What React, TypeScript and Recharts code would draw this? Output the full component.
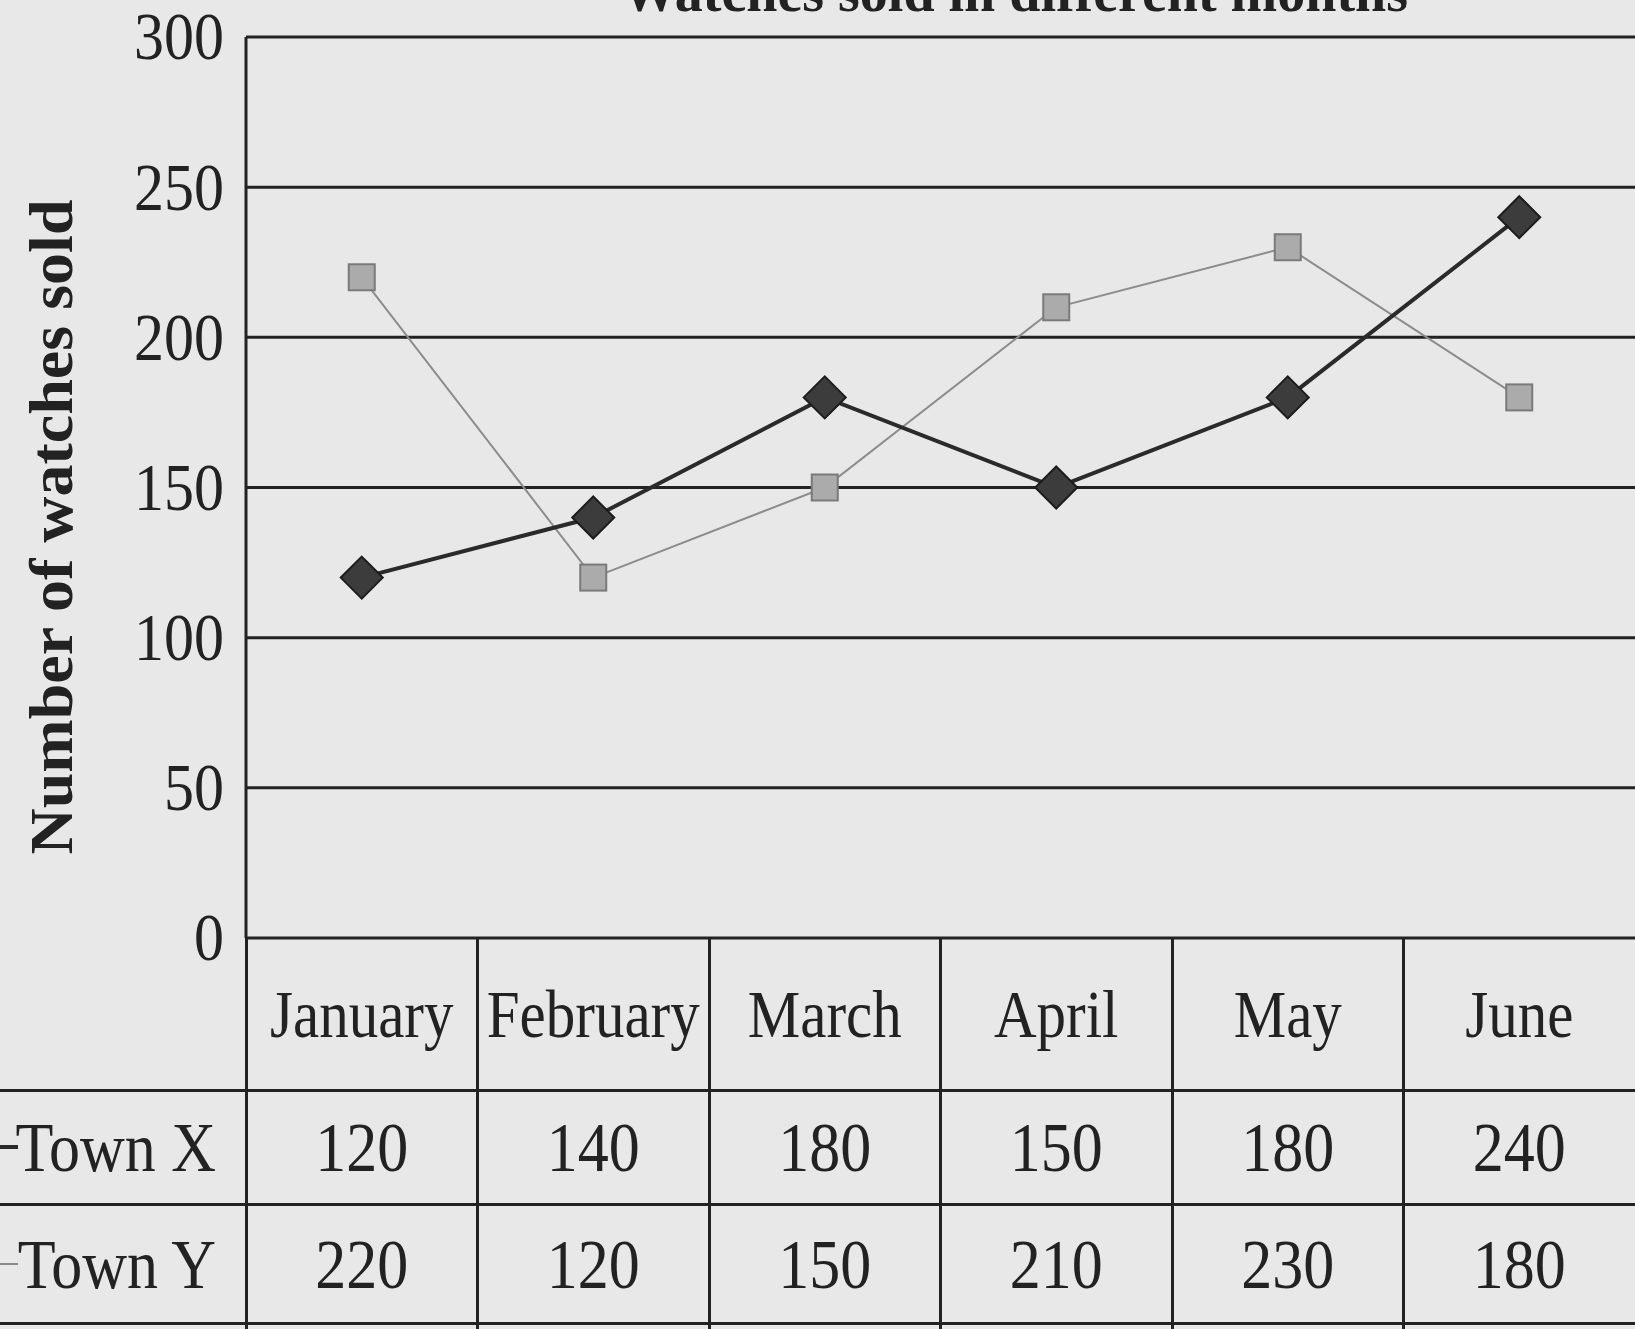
import { CartesianGrid, Line, LineChart, XAxis, YAxis } from 'recharts';

const months = ['January', 'February', 'March', 'April', 'May', 'June'];
const townX = [120, 140, 180, 150, 180, 240];
const townY = [220, 120, 150, 210, 230, 180];
const yTicks = [0, 50, 100, 150, 200, 250, 300];

const data = months.map((month, i) => ({ month, townX: townX[i], townY: townY[i] }));

const W = 1635;
const AXIS_X = 246;
const PLOT_TOP = 37;
const PLOT_BOTTOM = 938;
const COL_W = (W - AXIS_X) / months.length;
const FONT = '"Liberation Serif", "Times New Roman", serif';
const INK = '#222';
const PAPER = '#e8e8e9';

const YTick = ({ x, y, payload }: any) => (
  <text
    x={0}
    y={0}
    transform={`translate(${x},${y + 7}) scale(1,1.12)`}
    textAnchor="end"
    dominantBaseline="middle"
    fontFamily={FONT}
    fontSize={60}
    fill={INK}
  >
    {payload.value}
  </text>
);

const Diamond = ({ cx, cy, index }: any) => (
  <path
    key={`dx-${index}`}
    d={`M${cx},${cy - 21} L${cx + 21},${cy} L${cx},${cy + 21} L${cx - 21},${cy} Z`}
    fill="#3c3c3c"
    stroke="#1c1c1c"
    strokeWidth={2}
  />
);

const Square = ({ cx, cy, index }: any) => (
  <rect
    key={`sy-${index}`}
    x={cx - 13}
    y={cy - 13}
    width={26}
    height={26}
    fill="#ababab"
    stroke="#7a7a7a"
    strokeWidth={2}
  />
);

const cellText: React.CSSProperties = {
  display: 'inline-block',
  transform: 'scale(1,1.12)',
  fontFamily: FONT,
  fontSize: 62,
  color: INK,
  lineHeight: 1,
};

const headText: React.CSSProperties = { ...cellText, fontSize: 59, transform: 'scale(1,1.16)' };

const rows = [
  { name: 'Town X', values: townX, top: 1090, height: 114, key: '#2a2a2a', keyW: 4 },
  { name: 'Town Y', values: townY, top: 1204, height: 120, key: '#8a8a8a', keyW: 2 },
];

const App = () => {
  return (
    <div
      style={{
        position: 'absolute',
        left: 0,
        top: 0,
        width: W,
        height: 1329,
        overflow: 'hidden',
        background: PAPER,
      }}
    >
      {/* partial title cut off by the scan */}
      <div
        style={{
          position: 'absolute',
          right: W - 1408,
          top: -40,
          fontFamily: FONT,
          fontWeight: 700,
          fontSize: 56,
          color: INK,
          whiteSpace: 'nowrap',
        }}
      >
        Watches sold in different months
      </div>

      <svg style={{ position: 'absolute', left: 0, top: 0 }} width={120} height={940}>
        <text
          x={0}
          y={0}
          transform="translate(72,527) rotate(-90)"
          textAnchor="middle"
          fontFamily={FONT}
          fontWeight={700}
          fontSize={62}
          fill={INK}
          textLength={655}
          lengthAdjust="spacingAndGlyphs"
        >
          Number of watches sold
        </text>
      </svg>

      <div style={{ position: 'absolute', left: 0, top: 0 }}>
        <LineChart
          width={W}
          height={PLOT_BOTTOM + 40}
          data={data}
          margin={{ top: PLOT_TOP, right: 0, left: 0, bottom: 40 }}
        >
          <CartesianGrid vertical={false} stroke={INK} strokeWidth={3} />
          <XAxis
            dataKey="month"
            hide
            padding={{ left: COL_W / 2, right: COL_W / 2 }}
          />
          <YAxis
            width={AXIS_X}
            domain={[0, 300]}
            ticks={yTicks}
            interval={0}
            tickSize={0}
            tickMargin={22}
            tick={<YTick />}
            axisLine={{ stroke: INK, strokeWidth: 3 }}
            tickLine={false}
          />
          <Line
            dataKey="townY"
            stroke="#8c8c8c"
            strokeWidth={2}
            dot={(p: any) => <Square {...p} />}
            isAnimationActive={false}
          />
          <Line
            dataKey="townX"
            stroke="#2a2a2a"
            strokeWidth={4}
            dot={(p: any) => <Diamond {...p} />}
            isAnimationActive={false}
          />
        </LineChart>
      </div>

      {/* data table under the plot */}
      {months.map((m, i) => (
        <div
          key={m}
          style={{
            position: 'absolute',
            left: AXIS_X + i * COL_W,
            top: PLOT_BOTTOM,
            width: COL_W,
            height: 1090 - PLOT_BOTTOM,
            display: 'flex',
            alignItems: 'center',
            justifyContent: 'center',
          }}
        >
          <span style={headText}>{m}</span>
        </div>
      ))}
      {months.map((m, i) => (
        <div
          key={`v-${m}`}
          style={{
            position: 'absolute',
            left: AXIS_X + i * COL_W - 1.5,
            top: PLOT_BOTTOM,
            width: 3,
            height: 1329 - PLOT_BOTTOM,
            background: INK,
          }}
        />
      ))}
      {rows.map((r) => (
        <div key={r.name}>
          <div
            style={{
              position: 'absolute',
              left: 0,
              top: r.top - 1.5,
              width: W,
              height: 3,
              background: INK,
            }}
          />
          <div
            style={{
              position: 'absolute',
              left: 0,
              top: r.top + r.height / 2 - r.keyW / 2,
              width: 18,
              height: r.keyW,
              background: r.key,
            }}
          />
          <div
            style={{
              position: 'absolute',
              left: 0,
              top: r.top,
              width: AXIS_X - 30,
              height: r.height,
              display: 'flex',
              alignItems: 'center',
              justifyContent: 'flex-end',
            }}
          >
            <span style={cellText}>{r.name}</span>
          </div>
          {r.values.map((v, i) => (
            <div
              key={`${r.name}-${i}`}
              style={{
                position: 'absolute',
                left: AXIS_X + i * COL_W,
                top: r.top,
                width: COL_W,
                height: r.height,
                display: 'flex',
                alignItems: 'center',
                justifyContent: 'center',
              }}
            >
              <span style={cellText}>{v}</span>
            </div>
          ))}
        </div>
      ))}
      <div
        style={{
          position: 'absolute',
          left: 0,
          top: 1322,
          width: W,
          height: 3,
          background: INK,
        }}
      />
    </div>
  );
};

export default App;
